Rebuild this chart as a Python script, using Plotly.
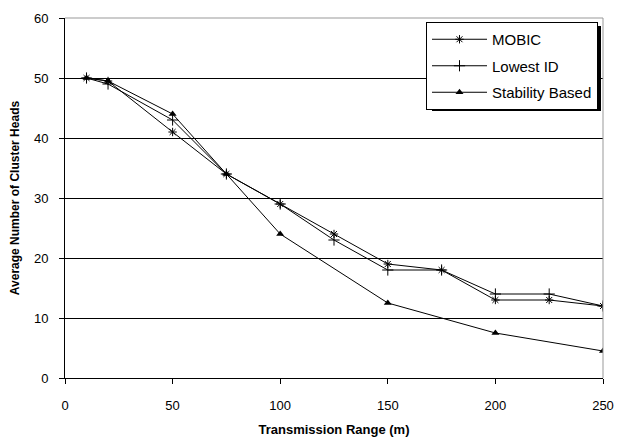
import plotly.graph_objects as go

x_range = [10, 20, 50, 75, 100, 125, 150, 175, 200, 225, 250]
mobic = [50, 49.5, 41, 34, 29, 24, 19, 18, 13, 13, 12]
lowest_id = [50, 49, 43, 34, 29, 23, 18, 18, 14, 14, 12]
stab_x = [10, 20, 50, 75, 100, 150, 200, 250]
stability = [50, 49.5, 44, 34, 24, 12.5, 7.5, 4.5]

FONT = "Liberation Sans, Arial, sans-serif"
L, R, T, B = 65, 603, 18, 378
PW, PH = R - L, B - T

fig = go.Figure()
fig.add_trace(go.Scatter(x=x_range, y=mobic, name="MOBIC", mode="lines+markers",
                         legendgroup="a",
                         line=dict(color="black", width=1),
                         marker=dict(symbol="asterisk-open", size=7, color="black",
                                     line=dict(color="black", width=1))))
fig.add_trace(go.Scatter(x=x_range, y=lowest_id, name="Lowest ID", mode="lines+markers",
                         legendgroup="b",
                         line=dict(color="black", width=1),
                         marker=dict(symbol="cross-thin-open", size=8, color="black",
                                     line=dict(color="black", width=1))))
fig.add_trace(go.Scatter(x=stab_x, y=stability, name="Stability Based", mode="lines+markers",
                         legendgroup="c",
                         line=dict(color="black", width=1),
                         marker=dict(symbol="triangle-up", size=7, color="black")))

# border (top/right in gray)
fig.add_shape(type="line", xref="paper", yref="paper", x0=0, x1=1, y0=1, y1=1,
              line=dict(color="#999999", width=1), layer="above")
fig.add_shape(type="line", xref="paper", yref="paper", x0=1, x1=1, y0=0, y1=1,
              line=dict(color="#999999", width=1), layer="above")
# legend shadow
fig.add_shape(type="rect", xref="paper", yref="paper",
              x0=(432 - L) / PW, x1=(601 - L) / PW,
              y0=(B - 111) / PH, y1=(B - 26) / PH,
              fillcolor="black", line=dict(width=0), layer="above")

fig.update_layout(
    width=617, height=443,
    margin=dict(l=L, r=617 - R, t=T, b=443 - B, autoexpand=False),
    paper_bgcolor="white", plot_bgcolor="white",
    font=dict(family=FONT, size=13, color="black"),
    showlegend=True,
    legend=dict(x=(598 - L) / PW, xanchor="right", y=(B - 22) / PH, yanchor="top",
                bgcolor="white", bordercolor="black", borderwidth=1,
                font=dict(family=FONT, size=15, color="black"),
                itemwidth=55, tracegroupgap=4),
    xaxis=dict(range=[0, 250], tickvals=[0, 50, 100, 150, 200, 250], automargin=False,
               showgrid=False, zeroline=False, showline=True, linecolor="black", linewidth=1,
               ticks="outside", ticklen=5, tickcolor="black", ticklabelstandoff=10,
               tickfont=dict(family=FONT, size=13),
               title=dict(text="<b>Transmission Range (m)</b>", font=dict(family=FONT, size=13), standoff=13)),
    yaxis=dict(range=[0, 60], tickvals=[0, 10, 20, 30, 40, 50, 60], automargin=False,
               showgrid=True, gridcolor="black", gridwidth=1,
               zeroline=False, showline=True, linecolor="black", linewidth=1,
               ticks="outside", ticklen=5, tickcolor="black", ticklabelstandoff=8,
               tickfont=dict(family=FONT, size=13),
               title=dict(text="<b>Average Number of Cluster Heads</b>", font=dict(family=FONT, size=12), standoff=11)),
)

fig.write_html("out.html")
